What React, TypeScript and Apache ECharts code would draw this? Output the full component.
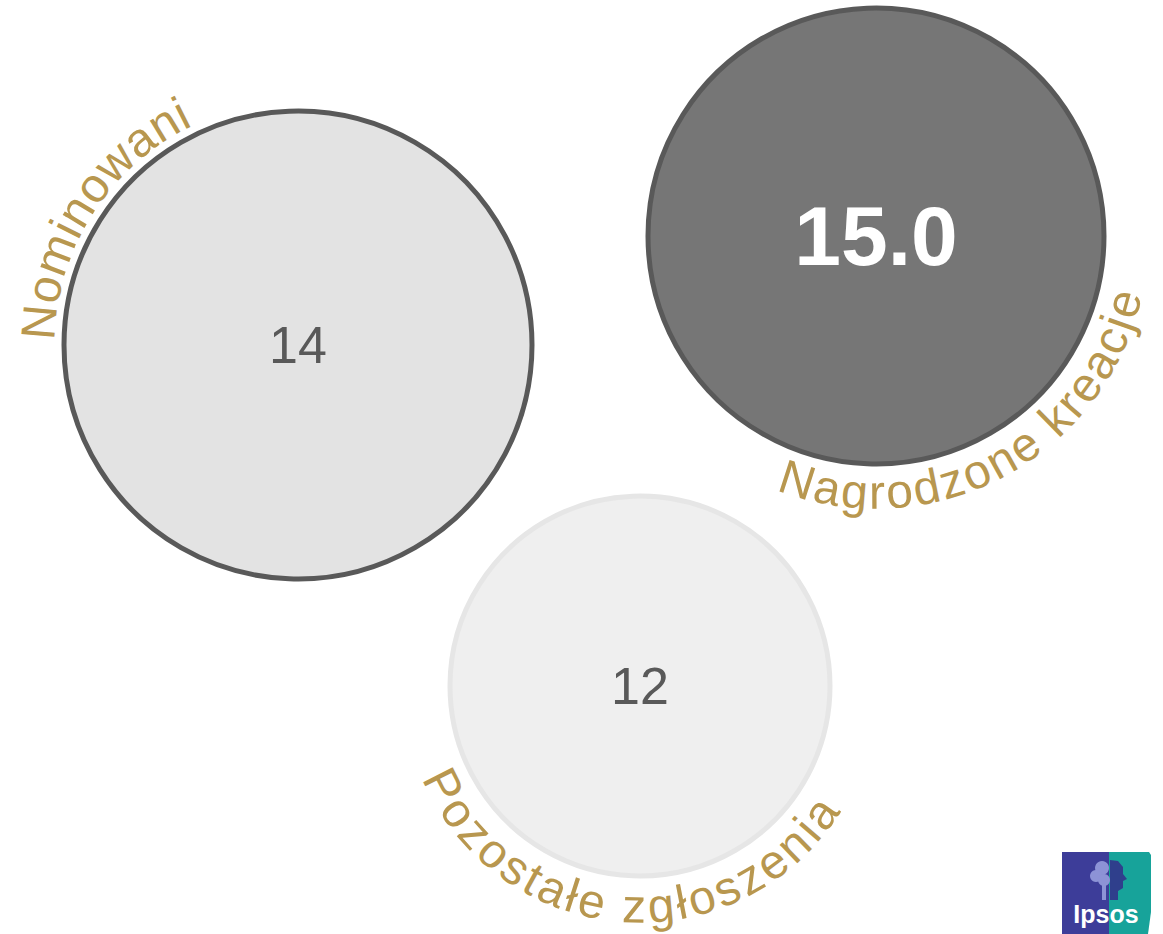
import React, { useEffect, useRef } from "react";
import * as echarts from "echarts";

// ---- data ----
const categories = ["Nominowani", "Nagrodzone kreacje", "Pozostałe zgłoszenia"];
const values = [14, 15.0, 12];
const highlighted = "Nagrodzone kreacje";

// ---- layout (page pixels) ----
const bubbleCenters: [number, number][] = [
  [298, 345],
  [876, 236],
  [640, 686],
];
const bubbleRadii = [234, 228, 190];
const bubbleFills = ["#e3e3e3", "#767676", "#efefef"];
const bubbleStrokes = ["#595959", "#595959", "#e6e6e6"];

// Curved captions: "top" runs clockwise with glyph tops outward,
// "bottom" runs along the lower rim with glyph tops toward the centre.
// Angles are screen degrees (y down), radius is the text baseline.
const arcSides = ["top", "bottom", "bottom"];
const arcRadii = [243, 273, 237];
const arcFrom = [-179, 111.5, 157];
const arcTo = [-115.5, 12.5, 32];

const FONT = '"Liberation Sans", Arial, sans-serif';
const GOLD = "#b8974f";
const ARC_FONT_SIZE = 48;

let measureCtx: CanvasRenderingContext2D | null = null;
function measure(ch: string, size: number): number {
  if (!measureCtx) measureCtx = document.createElement("canvas").getContext("2d");
  measureCtx!.font = `${size}px ${FONT}`;
  return measureCtx!.measureText(ch).width;
}

function arcText(
  text: string,
  cx: number,
  cy: number,
  R: number,
  fromDeg: number,
  toDeg: number,
  side: string,
  size: number
) {
  const chars = Array.from(text);
  const widths = chars.map((c) => measure(c, size));
  const total = widths.reduce((a, b) => a + b, 0);
  const span = (Math.abs(toDeg - fromDeg) * Math.PI) / 180;
  const gap = chars.length > 1 ? (R * span - total) / (chars.length - 1) : 0;
  const dir = toDeg > fromDeg ? 1 : -1;
  const start = (fromDeg * Math.PI) / 180;
  const out: any[] = [];
  let s = 0;
  chars.forEach((c, i) => {
    const mid = s + widths[i] / 2;
    s += widths[i] + gap;
    if (c === " ") return;
    const theta = start + (dir * mid) / R;
    const rc = side === "top" ? R + 0.35 * size : R - 0.35 * size;
    const rotation = side === "top" ? -(theta + Math.PI / 2) : Math.PI / 2 - theta;
    out.push({
      type: "text",
      x: cx + rc * Math.cos(theta),
      y: cy + rc * Math.sin(theta),
      rotation,
      silent: true,
      style: {
        text: c,
        fontSize: size,
        fontFamily: FONT,
        fill: GOLD,
        align: "center",
        verticalAlign: "middle",
      },
    });
  });
  return out;
}

function ipsosLogo() {
  return {
    type: "group",
    x: 1062,
    y: 852,
    silent: true,
    children: [
      { type: "rect", shape: { x: 0, y: 0, width: 48, height: 82 }, style: { fill: "#3d3d99" } },
      {
        type: "polygon",
        shape: { points: [[47, 0], [87, 0], [89, 3], [89, 60], [86, 82], [47, 82]] },
        style: { fill: "#17a39a" },
      },
      // tree crown (left half)
      { type: "circle", shape: { cx: 40, cy: 16, r: 7 }, style: { fill: "#8d93d6" } },
      { type: "circle", shape: { cx: 34, cy: 24, r: 6 }, style: { fill: "#8d93d6" } },
      { type: "circle", shape: { cx: 42, cy: 28, r: 6 }, style: { fill: "#8d93d6" } },
      { type: "rect", shape: { x: 40, y: 30, width: 4, height: 18 }, style: { fill: "#8d93d6" } },
      // head profile (right half)
      {
        type: "polygon",
        shape: {
          points: [[48, 8], [56, 9], [61, 15], [61, 22], [65, 27], [61, 29], [61, 36], [56, 39], [56, 48], [48, 48]],
        },
        style: { fill: "#2f3f8c" },
      },
      {
        type: "text",
        x: 44,
        y: 62,
        style: {
          text: "Ipsos",
          fontSize: 25,
          fontWeight: "bold",
          fontFamily: FONT,
          fill: "#ffffff",
          align: "center",
          verticalAlign: "middle",
        },
      },
    ],
  };
}

export default function App() {
  const ref = useRef<HTMLDivElement>(null);

  useEffect(() => {
    if (!ref.current) return;
    const chart = echarts.init(ref.current, undefined, { renderer: "svg" });

    const data = categories.map((name, i) => {
      const isHi = name === highlighted;
      return {
        name,
        value: [bubbleCenters[i][0], bubbleCenters[i][1], values[i]],
        symbolSize: bubbleRadii[i] * 2,
        itemStyle: {
          color: bubbleFills[i],
          borderColor: bubbleStrokes[i],
          borderWidth: 5,
          opacity: 1,
        },
        label: {
          show: true,
          position: "inside",
          formatter: () => (isHi ? values[i].toFixed(1) : String(values[i])),
          fontFamily: FONT,
          fontSize: isHi ? 84 : 52,
          fontWeight: isHi ? "bold" : "normal",
          color: isHi ? "#ffffff" : "#595959",
        },
      };
    });

    const captions = categories.flatMap((name, i) =>
      arcText(
        name,
        bubbleCenters[i][0],
        bubbleCenters[i][1],
        arcRadii[i],
        arcFrom[i],
        arcTo[i],
        arcSides[i],
        ARC_FONT_SIZE
      )
    );

    chart.setOption({
      animation: false,
      backgroundColor: "#ffffff",
      grid: { left: 0, right: 0, top: 0, bottom: 0 },
      xAxis: { type: "value", min: 0, max: 1163, show: false },
      yAxis: { type: "value", min: 0, max: 934, inverse: true, show: false },
      tooltip: { show: false },
      series: [
        {
          type: "scatter",
          symbol: "circle",
          data,
          emphasis: { disabled: true },
          z: 2,
        },
      ],
      graphic: [...captions, ipsosLogo()],
    });

    return () => chart.dispose();
  }, []);

  return (
    <div
      ref={ref}
      style={{ position: "absolute", left: 0, top: 0, width: 1163, height: 934 }}
    />
  );
}
